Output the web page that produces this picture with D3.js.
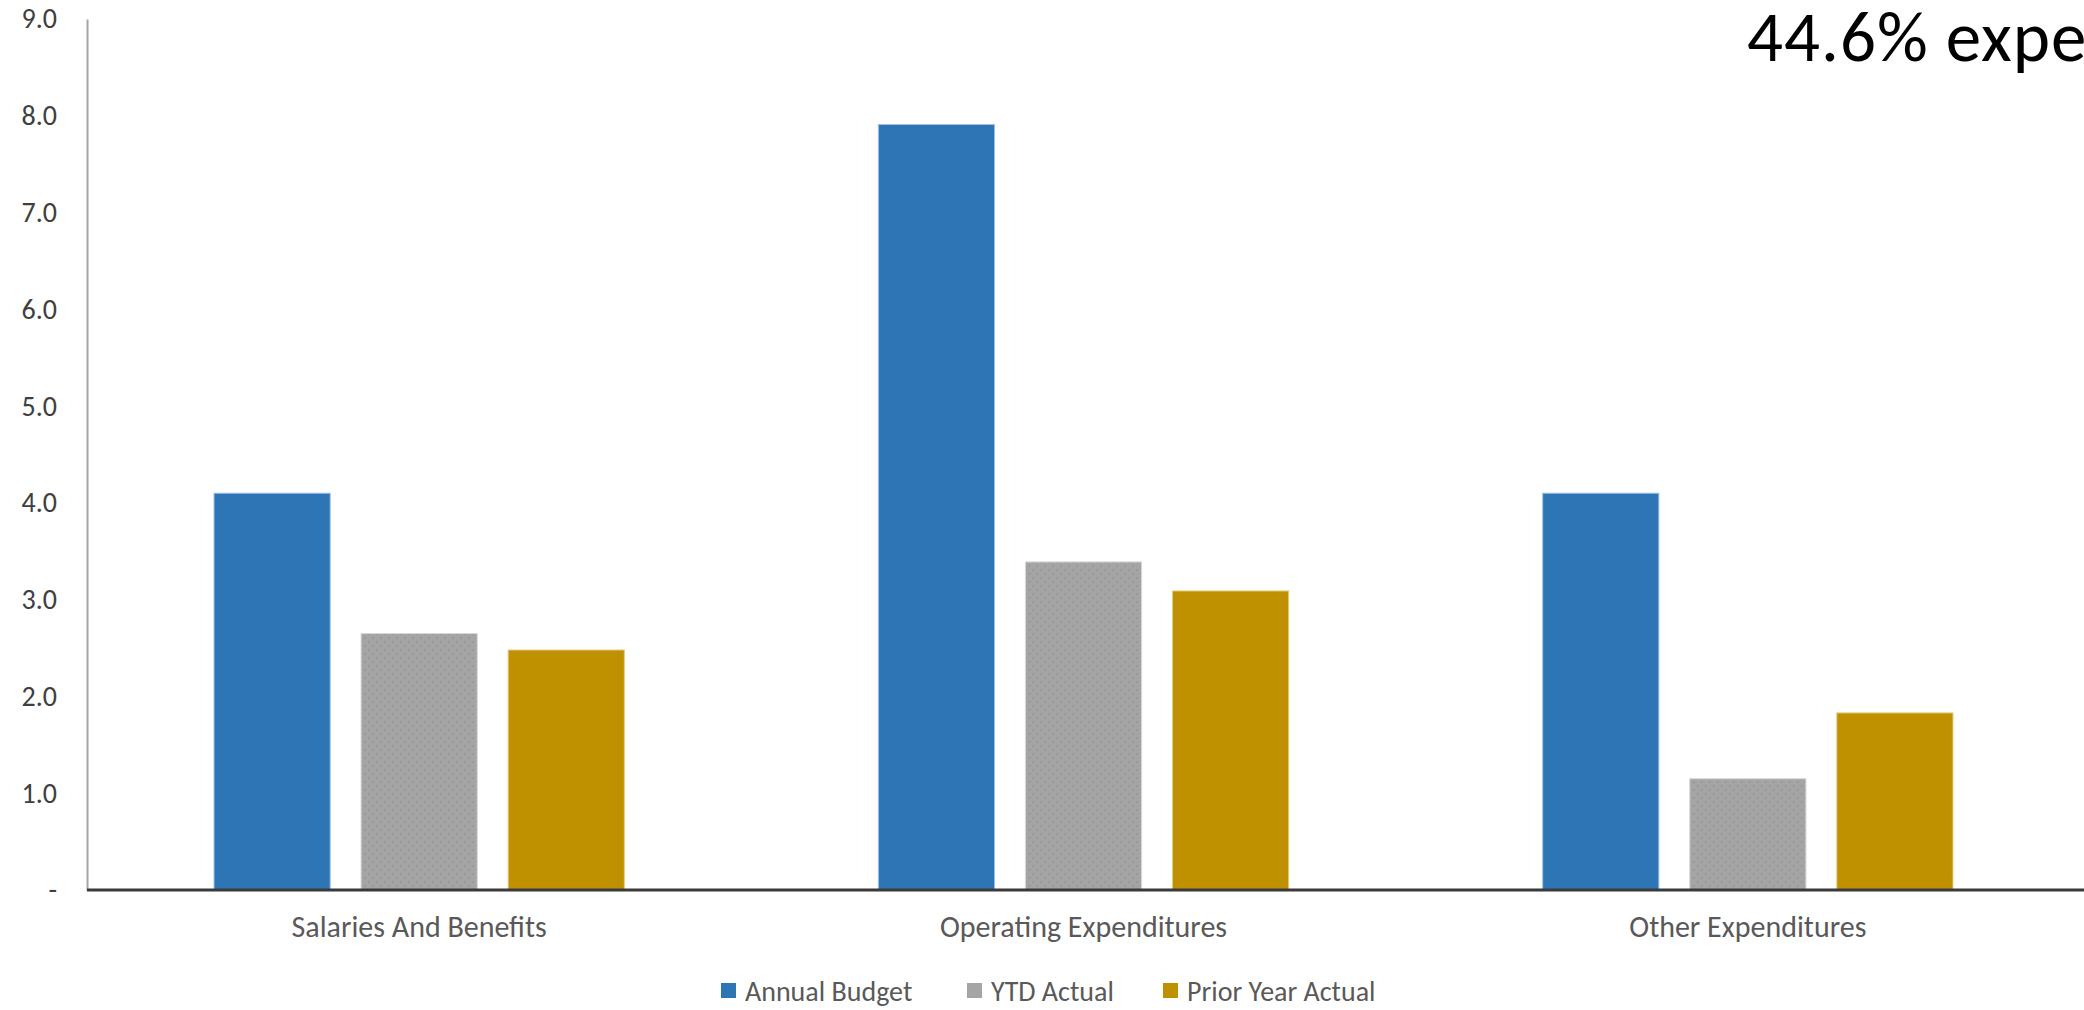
<!DOCTYPE html>
<html>
<head>
<meta charset="utf-8">
<script src="https://cdn.jsdelivr.net/npm/d3@7"></script>
<style>
  html, body { margin: 0; padding: 0; background: #fff; overflow: hidden; }
  svg { display: block; }
  text { font-family: Calibri, Carlito, Lato, sans-serif; }
</style>
</head>
<body>
<svg id="chart" width="2084" height="1010"></svg>
<script>
// Expenditure categories and series (millions)
const categories = ["Salaries And Benefits", "Operating Expenditures", "Other Expenditures"];
const seriesNames = ["Annual Budget", "YTD Actual", "Prior Year Actual"];
const annualBudget = [4.10, 7.91, 4.10];
const ytdActual = [2.65, 3.39, 1.15];
const priorYearActual = [2.48, 3.09, 1.83];
const yTicks = [0, 1, 2, 3, 4, 5, 6, 7, 8, 9];
const headline = "44.6% expended";

const seriesValues = [annualBudget, ytdActual, priorYearActual];
const colors = ["#2E75B6", "url(#ytdDots)", "#BF9000"];
const legendColors = ["#2E75B6", "#A5A5A5", "#BF9000"];
const strokes = ["#9DC3E6", "#D9D9D9", "#E6CC80"];

const svg = d3.select("#chart");
const W = 2084, H = 1010;
const m = { left: 87, right: 4, top: 19, bottom: 120 };

// Dotted texture for the YTD series
const defs = svg.append("defs");
const pat = defs.append("pattern")
  .attr("id", "ytdDots").attr("patternUnits", "userSpaceOnUse")
  .attr("width", 8).attr("height", 8);
pat.append("rect").attr("width", 8).attr("height", 8).attr("fill", "#A5A5A5");
pat.append("circle").attr("cx", 2).attr("cy", 2).attr("r", 0.9).attr("fill", "#939393");
pat.append("circle").attr("cx", 6).attr("cy", 6).attr("r", 0.9).attr("fill", "#939393");

const y = d3.scaleLinear().domain([0, 9]).range([890, m.top]);
const x0 = d3.scaleBand().domain(categories).range([87, 2080]).paddingInner(0).paddingOuter(0);
const x1 = d3.scaleBand().domain(seriesNames).range([127, x0.bandwidth() - 127]).paddingInner(0.21);

// Y axis
const yAxis = d3.axisLeft(y).tickValues(yTicks).tickSize(0).tickPadding(30)
  .tickFormat(d => d === 0 ? "-" : d3.format(".1f")(d));
const gy = svg.append("g").attr("transform", `translate(${m.left},0)`).call(yAxis);
gy.select(".domain").attr("stroke", "#A6A6A6").attr("stroke-width", 2);
gy.selectAll("text").attr("font-size", 28).attr("fill", "#404040");

// Bars
const groups = svg.append("g").selectAll("g")
  .data(categories).join("g")
  .attr("transform", c => `translate(${x0(c)},0)`);
groups.selectAll("rect")
  .data((c, ci) => seriesNames.map((s, si) => ({ s, si, v: seriesValues[si][ci] })))
  .join("rect")
  .attr("x", d => x1(d.s))
  .attr("width", x1.bandwidth())
  .attr("y", d => y(d.v))
  .attr("height", d => y(0) - y(d.v))
  .attr("fill", d => colors[d.si])
  .attr("stroke", d => strokes[d.si])
  .attr("stroke-width", 1);

// X axis (baseline + category labels)
const xAxis = d3.axisBottom(x0).tickSize(0).tickPadding(26);
const gx = svg.append("g").attr("transform", `translate(0,${y(0)})`).call(xAxis);
gx.select(".domain").attr("d", `M${m.left},0H${W}`).attr("stroke", "#3A3A3A").attr("stroke-width", 3);
gx.selectAll("text").attr("font-size", 30).attr("fill", "#595959");

// Legend
const legendItems = [
  { name: seriesNames[0], x: 721 },
  { name: seriesNames[1], x: 967 },
  { name: seriesNames[2], x: 1163 }
];
const lg = svg.append("g").selectAll("g").data(legendItems).join("g")
  .attr("transform", d => `translate(${d.x},983)`);
lg.append("rect").attr("width", 15).attr("height", 15)
  .attr("fill", (d, i) => legendColors[i]);
lg.append("text").attr("x", 24).attr("y", 8).attr("dy", "0.34em")
  .attr("font-size", 28).attr("fill", "#595959").text(d => d.name);

// Headline text running off the right edge
svg.append("text").attr("x", 1747).attr("y", 61)
  .attr("font-size", 71).attr("letter-spacing", 1).attr("fill", "#000").text(headline);
</script>
</body>
</html>
